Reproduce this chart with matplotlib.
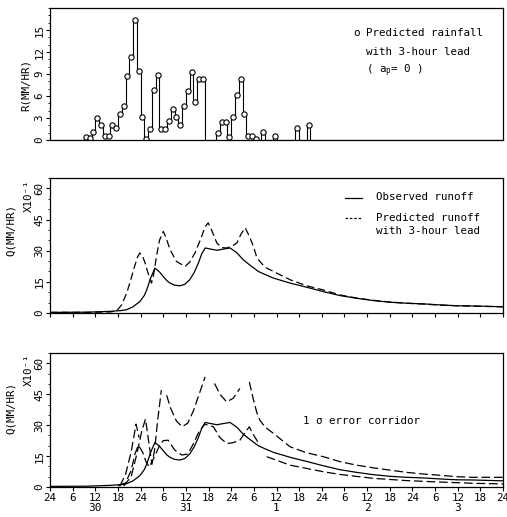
import numpy as np
import matplotlib
matplotlib.use('Agg')
import matplotlib.pyplot as plt
from matplotlib.ticker import MultipleLocator

plt.rcParams['font.family'] = ['DejaVu Sans Mono', 'DejaVu Sans']
plt.rcParams['font.size'] = 8

# === data ===
# hourly rainfall (mm/hr), hours 0..119 from 24h of day 29
rain = ([0] * 9 +
        [0.4, 0.3, 1.1, 3.0, 2.0, 0.5, 0.5, 2.0, 1.6, 3.6,
         4.6, 8.7, 11.3, 16.4, 9.4, 3.1, 0.1, 1.5, 6.8, 8.8,
         1.5, 1.5, 2.6, 4.2, 3.2, 2.0, 4.6, 6.7, 9.3, 5.2,
         8.3, 8.3, 0, 0, 0, 1.0, 2.5, 2.5, 0.4, 3.1,
         6.2, 8.3, 3.5, 0.5, 0.5, 0.1, 0, 1.1, 0, 0,
         0.5, 0, 0, 0, 0, 0, 1.7, 0, 0, 2.1] +
        [0] * 51)

# observed runoff (x10^-1 mm/hr)
obs_h = [0, 10, 16, 17.5, 19, 20.3, 22, 23.8, 25, 25.6, 26.7, 27.8, 29, 30, 31,
         31.8, 33, 34.4, 35.7, 37, 38.2, 39.3, 40.2, 41.1, 42.5, 44.2, 46, 47.7,
         49.5, 51.2, 53, 55.2, 57, 59.2, 63.6, 68, 72.4, 76.8, 81.2, 85.6, 90,
         94.5, 98.9, 103.3, 107.7, 112, 120]
obs_q = [0.3, 0.4, 0.8, 1.0, 1.2, 1.6, 3.0, 5.5, 8.5, 11, 17, 21.6, 19.8, 17.6, 15.5,
         14.4, 13.4, 13.1, 13.8, 16, 19.5, 24, 28.5, 31.3, 30.8, 30.2, 30.8, 31.3,
         29, 25.6, 23, 20, 18.5, 16.8, 14.4, 12.4, 10.3, 8.4, 7.1, 6.0, 5.2,
         4.7, 4.4, 3.9, 3.5, 3.4, 3.0]

# predicted runoff with 3-hour lead
pred_h = [0, 10, 16, 17.7, 19, 20.3, 21.4, 22.4, 23.2, 23.8, 24.5, 25.2, 26, 26.9,
          27.5, 28.2, 29, 30, 30.8, 31.8, 33.5, 35.8, 37, 38.4, 40, 41.1, 41.9,
          42.8, 44.2, 45.5, 46.8, 48.2, 49.5, 50.6, 51.7, 52.8, 53.9, 54.7, 55.6,
          57, 59.2, 63.6, 68, 72.4, 76.8, 81.2, 85.6, 90, 94.5, 98.9, 103.3,
          107.7, 112, 120]
pred_q = [0.3, 0.3, 0.5, 1.1, 4, 9.5, 16, 22.4, 27, 28.9, 27.5, 24, 19, 14.4,
          19, 27.2, 35, 39.3, 36, 30.5, 24.8, 22.4, 24.5, 28.9, 36, 41.5, 43.4,
          40, 33.7, 31.5, 31.3, 32.2, 33.7, 38, 41, 37, 32, 27.2, 24.8,
          22, 20, 16, 13.1, 11.1, 8.7, 7.2, 6.1, 5.3, 4.7, 4.3, 3.8,
          3.5, 3.3, 3.0]

# 1-sigma error corridor (hand-drawn segments, nan = break)
up_h = [18.5, 20, 21.5, 22.8, 23.6, np.nan,
        19.5, 21.5, 23, 24.3, 25.3, 26.3, 27, 27.7, 28.5, 29.5, np.nan,
        30.9, 32, 33.5, 35, 36.5, 38, 39.5, 41.1, np.nan,
        43.6, 45, 46.8, 48.5, 50.3, np.nan,
        52.8, 53.8, 54.8, 55.6, 57, 59.2, 63.6, 68, 72.4, 76.8, 81.2, 85.6, 90,
        94.5, 98.9, 103.3, 107.7, 112, 120]
up_q = [0.5, 6, 17, 30.5, 24, np.nan,
        0.5, 5, 16, 27, 33, 20, 11, 18, 32, 47, np.nan,
        44.5, 38, 32, 29.2, 31, 37, 45, 53.4, np.nan,
        50.2, 45, 41.3, 43, 47.8, np.nan,
        51, 43, 36, 32.4, 29, 26, 19.5, 16.6, 14.7, 12.3, 10.6, 9.3, 8.2,
        7.1, 6.3, 5.7, 5.0, 4.7, 4.7]
lo_h = [18, 20, 21.5, 22.5, 23.4, 24.5, 25.5, 26.3, 27.5, 29, 30, 31.3, 33, 34.9,
        36.5, 38, 39.5, 41, 43.3, 45, 46.8, 48.5, 50.3, 51.5, 52.8, 54, 55.6, np.nan,
        57.4, 63.6, 68, 72.4, 76.8, 85.6, 94.5, 103.3, 112, 120]
lo_q = [0.5, 2, 8, 16, 20.3, 17, 12, 9.8, 14, 20, 22.5, 22.7, 18, 15.5,
        16, 21, 27, 30.5, 29.2, 24, 21.1, 21.5, 22.7, 26, 29.2, 25, 20.3, np.nan,
        14.7, 10.6, 9, 7.4, 6.1, 4.2, 3.1, 2.4, 1.8, 1.5]

hour_ticks = list(range(0, 121, 6))
hour_labels = ['24', '6', '12', '18'] * 5 + ['24']
day_pos = [12, 36, 60, 84, 108]
day_labels = ['30', '31', '1', '2', '3']

W, H = 507, 517
fig = plt.figure(figsize=(W / 100, H / 100), dpi=100)
L, Wd = 50 / W, 453 / W
ax1 = fig.add_axes([L, 1 - 140 / H, Wd, 132 / H])
ax2 = fig.add_axes([L, 1 - 313 / H, Wd, 135 / H])
ax3 = fig.add_axes([L, 1 - 487 / H, Wd, 134 / H])

FS = 7.8
for ax in (ax1, ax2, ax3):
    ax.set_xlim(0, 120)
    ax.set_xticks(hour_ticks)
    ax.tick_params(axis='x', direction='out', length=3, width=0.8, labelsize=FS, pad=1.5)
    ax.tick_params(axis='y', which='major', direction='out', length=3, width=0.8,
                   labelrotation=90, labelsize=FS, pad=1)
    ax.tick_params(axis='y', which='minor', direction='out', length=1.8, width=0.6)
    for s in ax.spines.values():
        s.set_linewidth(0.9)

# --- top: rainfall ---
hrs = np.arange(len(rain)) + 0.5
r = np.array(rain)
ax1.plot(hrs, r, drawstyle='steps-mid', color='black', lw=0.8)
mk = r > 0
ax1.plot(hrs[mk], r[mk], 'o', ms=3.8, mfc='white', mec='black', mew=0.8)
ax1.set_ylim(0, 18)
ax1.set_yticks([0, 3, 6, 9, 12, 15])
ax1.yaxis.set_minor_locator(MultipleLocator(1))
ax1.tick_params(axis='x', length=0, labelbottom=False)
for lab in ax1.get_yticklabels() + ax2.get_yticklabels() + ax3.get_yticklabels():
    lab.set_va('center')
fig.text(26 / W, 1 - 85 / H, 'R(MM/HR)', rotation=90, ha='center', va='center', fontsize=FS)
ax1.text(80.3, 14.6, 'o', fontsize=FS, va='center')
ax1.text(83.7, 14.6, 'Predicted rainfall', fontsize=FS, va='center')
ax1.text(83.7, 12.0, 'with 3-hour lead', fontsize=FS, va='center')
ax1.text(83.7, 9.5, '( a$_\\mathregular{p}$= 0 )', fontsize=FS, va='center')

# --- middle: observed vs predicted ---
ax2.plot(obs_h, obs_q, color='black', lw=0.9)
ax2.plot(pred_h, pred_q, color='black', lw=0.9, dashes=(6, 3))
ax2.set_ylim(0, 65)
ax2.set_yticks([0, 15, 30, 45, 60])
ax2.yaxis.set_minor_locator(MultipleLocator(5))
ax2.tick_params(axis='x', labelbottom=False)
ax2.plot([78.1, 82.6], [55.5, 55.5], color='black', lw=0.9)
ax2.plot([78.1, 82.6], [45.8, 45.8], color='black', lw=0.9, dashes=(2, 1.5))
ax2.text(86.4, 55.7, 'Observed runoff', fontsize=FS, va='center')
ax2.text(86.4, 45.8, 'Predicted runoff', fontsize=FS, va='center')
ax2.text(86.4, 39.7, 'with 3-hour lead', fontsize=FS, va='center')

# --- bottom: error corridor ---
ax3.plot(obs_h, obs_q, color='black', lw=0.9)
ax3.plot(up_h, up_q, color='black', lw=0.9, dashes=(7, 3))
ax3.plot(lo_h, lo_q, color='black', lw=0.9, dashes=(7, 3))
ax3.set_ylim(0, 65)
ax3.set_yticks([0, 15, 30, 45, 60])
ax3.yaxis.set_minor_locator(MultipleLocator(5))
ax3.set_xticklabels(hour_labels)
ax3.text(67, 32.1, '1 σ error corridor', fontsize=FS, va='center')
for p, d in zip(day_pos, day_labels):
    fig.text((50 + p * 453 / 120) / W, 1 - 508 / H, d, ha='center',
             va='center', fontsize=8)

for yc in (230, 408):
    fig.text(11 / W, 1 - yc / H, 'Q(MM/HR)', rotation=90, ha='center',
             va='center', fontsize=FS)
for yc in (196, 370):
    fig.text(29 / W, 1 - yc / H, 'X10⁻¹', rotation=90,
             ha='center', va='center', fontsize=FS)

fig.savefig('out.png', dpi=100)
